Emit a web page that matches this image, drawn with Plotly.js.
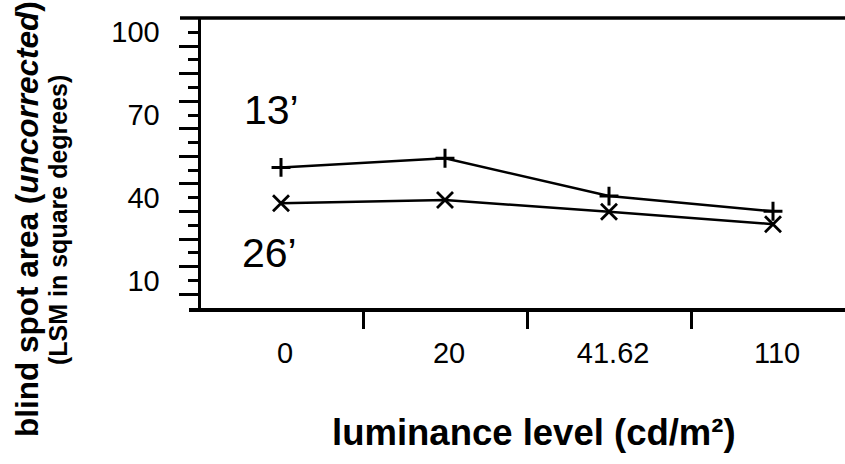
<!DOCTYPE html>
<html>
<head>
<meta charset="utf-8">
<script src="https://cdn.plot.ly/plotly-3.0.1.min.js"></script>
<style>
  html, body { margin: 0; padding: 0; background: #fff; }
  #chart { width: 845px; height: 464px; }
</style>
</head>
<body>
<div id="chart"></div>
<script>
// Luminance levels (cd/m²) shown along the x axis
const luminanceLabels = ['0', '20', '41.62', '110'];

// Blind spot area (LSM, square degrees) for the two test-target sizes
const area13 = [51.0, 54.3, 40.6, 35.1];
const area26 = [38.0, 39.2, 34.9, 30.4];

// Y-axis tick marks: short ticks every 10, labels every 30
const yMajorVals = [10, 20, 30, 40, 50, 60, 70, 80, 90, 100];
const yMajorText = ['10', '', '', '40', '', '', '70', '', '', '100'];
const yMinorVals = [5, 15, 25, 35, 45, 55, 65, 75, 85, 95];

const FONT = 'Liberation Sans, Arial, Helvetica, sans-serif';
const xIdx = luminanceLabels.map((_, i) => i);
const labelPos = xIdx.map(i => i + 0.025);          // labels sit a touch right of the points
const boundaries = xIdx.slice(1).map(i => i - 0.5);

const W = 845, H = 464;
const M = { l: 189, r: 0, t: 18, b: 156 };
const plotW = W - M.l - M.r;
const plotH = H - M.t - M.b;
const px = x => (x - M.l) / plotW;          // page x -> paper x
const py = y => (H - M.b - y) / plotH;      // page y -> paper y

const lineStyle = { color: '#000', width: 2.5 };

const traces = [
  {
    x: xIdx, y: area13, type: 'scatter', mode: 'lines+markers', name: "13’",
    line: lineStyle,
    marker: { symbol: 'cross-thin', size: 13.5, color: '#000', line: { color: '#000', width: 3 } },
    cliponaxis: false
  },
  {
    x: xIdx, y: area26, type: 'scatter', mode: 'lines+markers', name: "26’",
    line: lineStyle,
    marker: { symbol: 'x-thin', size: 16, color: '#000', line: { color: '#000', width: 2.8 } },
    cliponaxis: false
  }
];

const layout = {
  width: W, height: H,
  margin: M,
  paper_bgcolor: '#fff', plot_bgcolor: '#fff',
  showlegend: false,
  font: { family: FONT, color: '#000' },
  xaxis: {
    range: [-0.561, 3.439],
    showgrid: false, zeroline: false,
    showline: true, linecolor: '#000', linewidth: 3.5,
    tickmode: 'array', tickvals: labelPos, ticktext: luminanceLabels,
    ticks: '', ticklabelstandoff: 17,
    tickfont: { family: FONT, size: 29, color: '#000' },
    minor: { tickmode: 'array', tickvals: boundaries, ticks: 'outside', ticklen: 17, tickwidth: 3, tickcolor: '#000', showgrid: false }
  },
  yaxis: {
    range: [0, 105.2],
    anchor: 'free', position: px(198.5),
    showgrid: false, zeroline: false,
    showline: true, linecolor: '#000', linewidth: 3.5,
    tickmode: 'array', tickvals: yMajorVals, ticktext: yMajorText,
    ticks: 'outside', ticklen: 10, tickwidth: 3, tickcolor: '#000',
    ticklabelstandoff: 22,
    tickfont: { family: FONT, size: 29, color: '#000' },
    minor: { tickmode: 'array', tickvals: yMinorVals, ticks: 'outside', ticklen: 19, tickwidth: 3, tickcolor: '#000', showgrid: false }
  },
  shapes: [
    // top frame line
    { type: 'line', xref: 'paper', yref: 'paper', x0: px(180), x1: 1, y0: 1, y1: 1,
      line: { color: '#000', width: 3.5 } }
  ],
  annotations: [
    { text: "13’", xref: 'paper', yref: 'y', x: px(242), y: 71.8, xanchor: 'left', yanchor: 'middle',
      showarrow: false, font: { family: FONT, size: 41, color: '#000' } },
    { text: "26’", xref: 'paper', yref: 'y', x: px(240), y: 20.0, xanchor: 'left', yanchor: 'middle',
      showarrow: false, font: { family: FONT, size: 41, color: '#000' } },
    { text: '<b>luminance level (cd/m²)</b>', xref: 'paper', yref: 'paper',
      x: px(534), y: py(432), xanchor: 'center', yanchor: 'middle',
      showarrow: false, font: { family: FONT, size: 36.5, color: '#000' } },
    { text: '<b>blind spot area (<i>uncorrected</i>)</b>', xref: 'paper', yref: 'paper',
      x: px(27), y: py(219), xanchor: 'center', yanchor: 'middle', textangle: -90,
      showarrow: false, font: { family: FONT, size: 31.5, color: '#000' } },
    { text: '<b>(LSM in square degrees)</b>', xref: 'paper', yref: 'paper',
      x: px(58), y: py(220), xanchor: 'center', yanchor: 'middle', textangle: -90,
      showarrow: false, font: { family: FONT, size: 25, color: '#000' } }
  ]
};

Plotly.newPlot('chart', traces, layout, { staticPlot: true, displayModeBar: false });
</script>
</body>
</html>
